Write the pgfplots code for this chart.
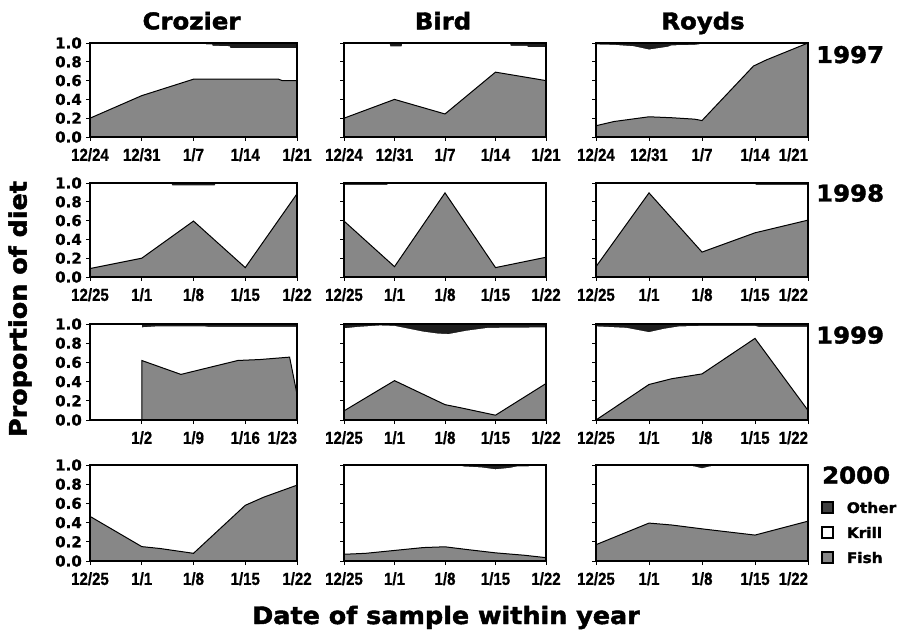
\documentclass[border=0pt]{standalone}
\usepackage{pgfplots}
\pgfplotsset{compat=1.18}
\usepackage{fontspec}
\setmainfont{DejaVu Sans}
\newfontfamily\headfont{DejaVu Sans}[FakeStretch=1.06, FakeBold=1.8]
\newfontfamily\ylfont{DejaVu Sans}[FakeBold=1]
\newfontfamily\narrowfont{Liberation Sans}[FakeStretch=0.86, FakeBold=0.8]
\definecolor{fishgray}{RGB}{135,135,135}
\definecolor{othercol}{RGB}{30,30,30}
\newcommand{\xtf}{\narrowfont\bfseries\fontsize{17.5}{17.5}\selectfont}
\newcommand{\ytf}{\ylfont\bfseries\fontsize{15}{15}\selectfont}
\newcommand{\ttf}{\headfont\bfseries\fontsize{23}{23}\selectfont}
\newcommand{\rl}[1]{\makebox[0pt][r]{#1}}
\pgfplotsset{
  panel/.style={scale only axis, anchor=south west, xmin=0, xmax=28, ymin=0, ymax=1,
    axis on top, axis line style={line width=1.2pt},
    tick align=outside, major tick length=4pt, tick style={black, line width=0.9pt},
    xtick pos=left, ytick pos=left, xtick={0,7,14,21,28}, ytick={0,0.2,0.4,0.6,0.8,1},
    yticklabels={},
    xticklabel style={font=\xtf, inner sep=1pt, yshift=-6pt},
    yticklabel style={font=\ytf, inner sep=1pt, xshift=-3pt}},
  withy/.style={yticklabels={0.0,0.2,0.4,0.6,0.8,1.0}},
  fishp/.style={fill=fishgray, draw=black, line width=1pt},
  krillp/.style={fill=white, draw=none},
  otherp/.style={fill=othercol, draw=none},
  L97/.style={xticklabels={12/24,12/31,1/7,1/14,1/21}},
  L97r/.style={xticklabels={12/24,12/31,1/7,1/14,{\rl{1/21}}}},
  L98/.style={xticklabels={12/25,1/1,1/8,1/15,1/22}},
  L98r/.style={xticklabels={12/25,1/1,1/8,1/15,{\rl{1/22}}}},
}
\begin{document}
\begin{tikzpicture}
\path[use as bounding box] (0pt,0pt) rectangle (902pt,630pt);

% ===== 1997 =====
\begin{axis}[panel, withy, L97, at={(90pt,493pt)}, width=207pt, height=94pt]
\addplot[otherp] coordinates {(0,1) (28,1)} \closedcycle;
\addplot[krillp] coordinates {(0,1) (13.9,1) (14,0.99) (16.5,0.985) (16.6,0.97) (18.9,0.965) (19,0.945) (28,0.945)} \closedcycle;
\addplot[fishp] coordinates {(0,0.20) (7,0.44) (14,0.615) (25.5,0.615) (26,0.60) (28,0.60)} \closedcycle;
\end{axis}
\begin{axis}[panel, L97, at={(344pt,493pt)}, width=202pt, height=94pt]
\addplot[otherp] coordinates {(0,1) (28,1)} \closedcycle;
\addplot[krillp] coordinates {(0,1) (6.3,1) (6.4,0.965) (8,0.965) (8.1,1) (23,1) (23.1,0.97) (25.4,0.97) (25.5,0.955) (28,0.955)} \closedcycle;
\addplot[fishp] coordinates {(0,0.20) (7,0.40) (14,0.245) (21,0.69) (28,0.60)} \closedcycle;
\end{axis}
\begin{axis}[panel, L97r, at={(596pt,493pt)}, width=212pt, height=94pt]
\addplot[otherp] coordinates {(0,1) (28,1)} \closedcycle;
\addplot[krillp] coordinates {(0,0.985) (2.4,0.98) (5,0.965) (7,0.93) (9.5,0.96) (10,0.975) (13,0.98) (14,0.99) (28,1.0)} \closedcycle;
\addplot[fishp] coordinates {(0,0.12) (2.4,0.165) (7,0.215) (10,0.205) (13,0.19) (14,0.175) (20.8,0.755) (22.5,0.82) (28,1.0)} \closedcycle;
\end{axis}

% ===== 1998 =====
\begin{axis}[panel, withy, L98, at={(90pt,353pt)}, width=207pt, height=94pt]
\addplot[otherp] coordinates {(0,1) (28,1)} \closedcycle;
\addplot[krillp] coordinates {(0,1) (11,1) (11.1,0.975) (16.9,0.975) (17,1) (28,1)} \closedcycle;
\addplot[fishp] coordinates {(0,0.09) (7,0.20) (14,0.595) (21,0.10) (28,0.885)} \closedcycle;
\end{axis}
\begin{axis}[panel, L98, at={(344pt,353pt)}, width=202pt, height=94pt]
\addplot[otherp] coordinates {(0,1) (28,1)} \closedcycle;
\addplot[krillp] coordinates {(0,0.98) (6,0.98) (6.1,1) (28,1)} \closedcycle;
\addplot[fishp] coordinates {(0,0.595) (7,0.11) (14,0.895) (21,0.10) (28,0.21)} \closedcycle;
\end{axis}
\begin{axis}[panel, L98r, at={(596pt,353pt)}, width=212pt, height=94pt]
\addplot[otherp] coordinates {(0,1) (28,1)} \closedcycle;
\addplot[krillp] coordinates {(0,1) (21,1) (21.1,0.98) (28,0.98)} \closedcycle;
\addplot[fishp] coordinates {(0,0.11) (7,0.895) (14,0.265) (21,0.47) (28,0.605)} \closedcycle;
\end{axis}

% ===== 1999 =====
\begin{axis}[panel, withy, at={(90pt,210pt)}, width=207pt, height=96pt,
  xtick={7,14,21,28}, xticklabels={1/2,1/9,1/16,{\rl{1/23}}}]
\addplot[otherp] coordinates {(7,1) (28,1)} \closedcycle;
\addplot[krillp] coordinates {(7,0.965) (9,0.975) (15.5,0.975) (16,0.97) (28,0.97)} \closedcycle;
\addplot[fishp] coordinates {(7,0.62) (12.3,0.475) (20,0.62) (23,0.63) (27,0.655) (28,0.27)} \closedcycle;
\end{axis}
\begin{axis}[panel, L98, at={(344pt,210pt)}, width=202pt, height=96pt]
\addplot[otherp] coordinates {(0,1) (28,1)} \closedcycle;
\addplot[krillp] coordinates {(0,0.955) (2,0.97) (5,0.985) (7,0.98) (9,0.95) (11,0.92) (13,0.90) (14.5,0.895) (17,0.93) (20,0.96) (28,0.965)} \closedcycle;
\addplot[fishp] coordinates {(0,0.095) (7,0.41) (14,0.16) (16,0.13) (21,0.05) (28,0.38)} \closedcycle;
\end{axis}
\begin{axis}[panel, L98r, at={(596pt,210pt)}, width=212pt, height=96pt]
\addplot[otherp] coordinates {(0,1) (28,1)} \closedcycle;
\addplot[krillp] coordinates {(0,0.975) (4,0.96) (7,0.915) (9,0.95) (11,0.975) (14,0.98) (21,0.98) (21.5,0.97) (28,0.97)} \closedcycle;
\addplot[fishp] coordinates {(0,0.0) (7,0.37) (10,0.43) (14,0.48) (21,0.85) (28,0.10)} \closedcycle;
\end{axis}

% ===== 2000 =====
\begin{axis}[panel, withy, L98, at={(90pt,69pt)}, width=207pt, height=96pt]
\addplot[krillp] coordinates {(0,1) (28,1)} \closedcycle;
\addplot[fishp] coordinates {(0,0.465) (7,0.15) (9.5,0.13) (14,0.08) (21,0.58) (23.5,0.665) (28,0.79)} \closedcycle;
\end{axis}
\begin{axis}[panel, L98, at={(344pt,69pt)}, width=202pt, height=96pt]
\addplot[otherp] coordinates {(0,1) (28,1)} \closedcycle;
\addplot[krillp] coordinates {(0,1) (16,1) (16.5,0.985) (19,0.975) (21,0.955) (23,0.97) (24,0.985) (28,0.99)} \closedcycle;
\addplot[fishp] coordinates {(0,0.07) (3,0.08) (7,0.11) (11,0.14) (14,0.148) (17,0.12) (21,0.085) (25,0.06) (28,0.035)} \closedcycle;
\end{axis}
\begin{axis}[panel, L98r, at={(596pt,69pt)}, width=212pt, height=96pt,
  legend image code/.code={\draw[#1, line width=1.5pt] (0pt,-5.5pt) rectangle (11pt,5.5pt);},
  legend style={at={(axis description cs:1.062,0.625)}, anchor=north west, draw=none, fill=none,
    inner sep=0pt, row sep=12.5pt, column sep=13pt, font=\headfont\bfseries\fontsize{14.5}{14.5}\selectfont,
    nodes={inner sep=0pt, text height=11pt, text depth=0pt}},
  legend cell align=left]
\addplot[otherp, forget plot] coordinates {(0,1) (28,1)} \closedcycle;
\addplot[krillp, forget plot] coordinates {(0,1) (12,0.995) (13,0.985) (14,0.965) (15,0.985) (16,0.995) (28,0.99)} \closedcycle;
\addplot[fishp, forget plot] coordinates {(0,0.17) (7,0.395) (10,0.375) (14,0.335) (21,0.27) (28,0.415)} \closedcycle;
\addlegendimage{fill=othercol!85!white, draw=black}
\addlegendentry{Other}
\addlegendimage{fill=white, draw=black}
\addlegendentry{Krill}
\addlegendimage{fill=fishgray, draw=black}
\addlegendentry{Fish}
\end{axis}

% ===== titles =====
\node[anchor=base, inner sep=0pt, font=\ttf] at (191.5pt,600.7pt) {Crozier};
\node[anchor=base, inner sep=0pt, font=\ttf] at (443pt,600.7pt) {Bird};
\node[anchor=base, inner sep=0pt, font=\ttf] at (703pt,600.7pt) {Royds};
\node[anchor=base west, inner sep=0pt, font=\ttf] at (816pt,567pt) {1997};
\node[anchor=base west, inner sep=0pt, font=\ttf] at (816pt,428.5pt) {1998};
\node[anchor=base west, inner sep=0pt, font=\ttf] at (816pt,286.5pt) {1999};
\node[anchor=base west, inner sep=0pt, font=\ttf] at (822pt,146.5pt) {2000};
\node[rotate=90, inner sep=0pt, font=\headfont\bfseries\fontsize{24}{24}\selectfont] at (20pt,321pt) {Proportion of diet};
\node[anchor=base, inner sep=0pt, font=\headfont\bfseries\fontsize{24}{24}\selectfont] at (446pt,6pt) {Date of sample within year};
\end{tikzpicture}
\end{document}
